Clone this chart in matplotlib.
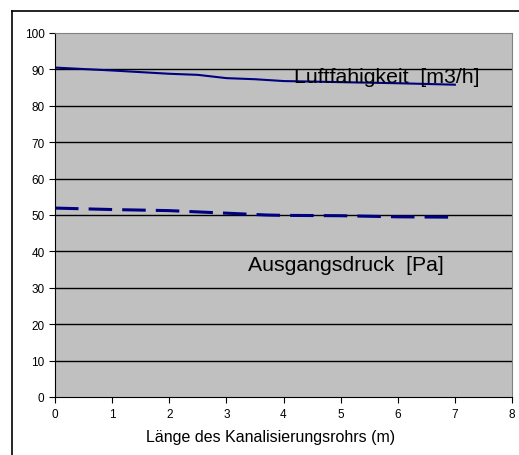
import numpy as np
import matplotlib
matplotlib.use('Agg')
from matplotlib import pyplot as plt
from matplotlib.lines import Line2D

plt.rcParams['font.family'] = ['Liberation Sans', 'DejaVu Sans']

# rohr length (m)
laenge = [0, 1, 2, 2.5, 3, 3.5, 4, 5, 6, 7]
# air capacity [m3/h]
luft = [90.5, 89.7, 88.8, 88.5, 87.6, 87.3, 86.8, 86.5, 86.2, 85.8]

laenge_p = [0, 1, 2, 3, 3.7, 4, 5, 6, 7]
# outlet pressure [Pa]
druck = [51.9, 51.5, 51.2, 50.5, 50.0, 49.9, 49.8, 49.5, 49.4]

yticks = list(range(0, 101, 10))
xticks = list(range(0, 9))

W, H = 519, 456
fig = plt.figure(figsize=(W / 100, H / 100), dpi=100)
ax = fig.add_axes([55 / W, (H - 398) / H, (512 - 55) / W, (398 - 34) / H])
ax.set_facecolor('#c0c0c0')

ax.plot(laenge, luft, color='#000080', lw=1.5)
ax.plot(laenge_p, druck, color='#000080', lw=2.2, linestyle=(0, (7.7, 3.3)))

ax.set_xlim(0, 8)
ax.set_ylim(0, 100)
ax.set_xticks(xticks)
ax.set_yticks(yticks)
for y in yticks[1:-1]:
    ax.axhline(y, color='black', lw=1, zorder=0.5)

ax.tick_params(axis='both', labelsize=8.5, length=4, width=0.8, direction='out')
ax.tick_params(axis='x', pad=4)
ax.spines['top'].set_color('#808080')
ax.spines['right'].set_color('#808080')
ax.spines['left'].set_color('black')
ax.spines['bottom'].set_color('black')

ax.text(4.19, 88, 'Luftfähigkeit  [m3/h]', fontsize=15.3, va='center', ha='left')
ax.text(3.38, 36.3, 'Ausgangsdruck  [Pa]', fontsize=15.3, va='center', ha='left')
ax.set_xlabel('Länge des Kanalisierungsrohrs (m)', fontsize=11.5)
ax.xaxis.set_label_coords(0.471, -0.087)

# outer chart frame
fig.add_artist(Line2D([12 / W, 12 / W], [0, 1 - 12 / H], color='black', lw=1.2))
fig.add_artist(Line2D([12 / W, 1], [1 - 12 / H, 1 - 12 / H], color='black', lw=1.2))

fig.savefig('out.png', dpi=100)
